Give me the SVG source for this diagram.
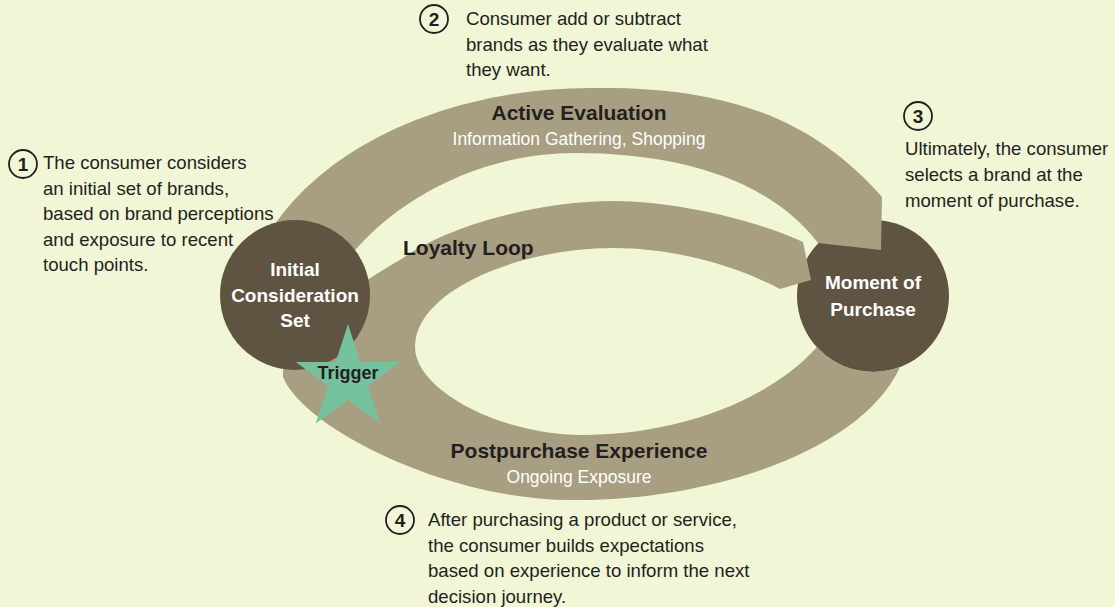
<svg xmlns="http://www.w3.org/2000/svg" width="1115" height="607" viewBox="0 0 1115 607">
  <style>
    .band { fill: #a89e81; }
    .node { fill: #5f5441; }
    .node-label { font-family: "Liberation Sans", Arial, Helvetica, sans-serif; font-size: 19px; font-weight: bold; fill: #ffffff; text-anchor: middle; }
    .band-title { font-family: "Liberation Sans", Arial, Helvetica, sans-serif; font-size: 21px; font-weight: bold; fill: #231f20; }
    .band-sub { font-family: "Liberation Sans", Arial, Helvetica, sans-serif; font-size: 17.5px; fill: #ffffff; text-anchor: middle; }
    .note { font-family: "Liberation Sans", Arial, Helvetica, sans-serif; font-size: 18.6px; fill: #231f20; }
    .num-ring { fill: none; stroke: #231f20; stroke-width: 1.8; }
    .num { font-family: "Liberation Sans", Arial, Helvetica, sans-serif; font-size: 19px; font-weight: bold; fill: #231f20; text-anchor: middle; }
  </style>

  <rect width="1115" height="607" fill="#f1f6d6"/>

  <!-- Moment of Purchase (sits under the loop's arrow tips) -->
  <g id="node-moment-of-purchase">
    <circle class="node" cx="873" cy="296" r="76"/>
    <text class="node-label" x="873" y="289">Moment of</text>
    <text class="node-label" x="873" y="316">Purchase</text>
  </g>

  <g id="connectors">
    <!-- Loyalty loop / postpurchase ring, cut along the purchase circle at the bottom -->
    <path id="loyalty-loop" class="band" d="M 803,242
      C 760,222 680,201 613,201
      C 540,201 450,225 403,258
      C 350,290 283,330 283,377
      C 305,430 450,500 570,500
      C 700,502 860,455 900,367
      A 76 76 0 0 1 817,347
      C 760,410 660,435 583,435
      C 500,435 415,390 415,347
      C 415,290 520,248 613,248
      C 680,248 740,268 780,289
      L 811,280 Z"/>
    <!-- Active evaluation arc -->
    <path id="active-evaluation" class="band" d="M 262,245
      C 320,140 460,88 590,88
      C 720,86 810,115 882,197
      L 881,250 L 818,243
      C 770,180 680,153 575,153
      C 470,153 380,210 340,270 Z"/>

    <text class="band-title" x="579" y="120" text-anchor="middle">Active Evaluation</text>
    <text class="band-sub" x="579" y="145">Information Gathering, Shopping</text>
    <text class="band-title" x="403" y="255">Loyalty Loop</text>
    <text class="band-title" x="579" y="458" text-anchor="middle">Postpurchase Experience</text>
    <text class="band-sub" x="579" y="483">Ongoing Exposure</text>
  </g>

  <g id="node-initial-consideration-set">
    <circle class="node" cx="295" cy="295" r="75"/>
    <text class="node-label" x="295" y="276">Initial</text>
    <text class="node-label" x="295" y="302">Consideration</text>
    <text class="node-label" x="295" y="327">Set</text>
  </g>

  <g id="node-trigger">
    <polygon fill="#76c29f" points="348,324 360.3,362 400.3,362 368,385.5 380.3,423.5 348,400 315.7,423.5 328,385.5 295.7,362 335.7,362"/>
    <text x="348" y="379" text-anchor="middle" style="font-family:'Liberation Sans',Arial,sans-serif;font-size:18px;font-weight:bold;fill:#231f20">Trigger</text>
  </g>

  <g id="note-1">
    <circle class="num-ring" cx="23" cy="164" r="14"/>
    <text class="num" x="23" y="171">1</text>
    <text class="note" x="43" y="169">The consumer considers</text>
    <text class="note" x="43" y="194.5">an initial set of brands,</text>
    <text class="note" x="43" y="220">based on brand perceptions</text>
    <text class="note" x="43" y="245.5">and exposure to recent</text>
    <text class="note" x="43" y="271">touch points.</text>
  </g>

  <g id="note-2">
    <circle class="num-ring" cx="434" cy="19" r="14"/>
    <text class="num" x="434" y="26">2</text>
    <text class="note" x="466" y="25">Consumer add or subtract</text>
    <text class="note" x="466" y="50.5">brands as they evaluate what</text>
    <text class="note" x="466" y="76">they want.</text>
  </g>

  <g id="note-3">
    <circle class="num-ring" cx="918" cy="116" r="14"/>
    <text class="num" x="918" y="123">3</text>
    <text class="note" x="905" y="155">Ultimately, the consumer</text>
    <text class="note" x="905" y="181">selects a brand at the</text>
    <text class="note" x="905" y="207">moment of purchase.</text>
  </g>

  <g id="note-4">
    <circle class="num-ring" cx="400" cy="520" r="14"/>
    <text class="num" x="400" y="527">4</text>
    <text class="note" x="428" y="526">After purchasing a product or service,</text>
    <text class="note" x="428" y="551.5">the consumer builds expectations</text>
    <text class="note" x="428" y="577">based on experience to inform the next</text>
    <text class="note" x="428" y="602.5">decision journey.</text>
  </g>
</svg>
